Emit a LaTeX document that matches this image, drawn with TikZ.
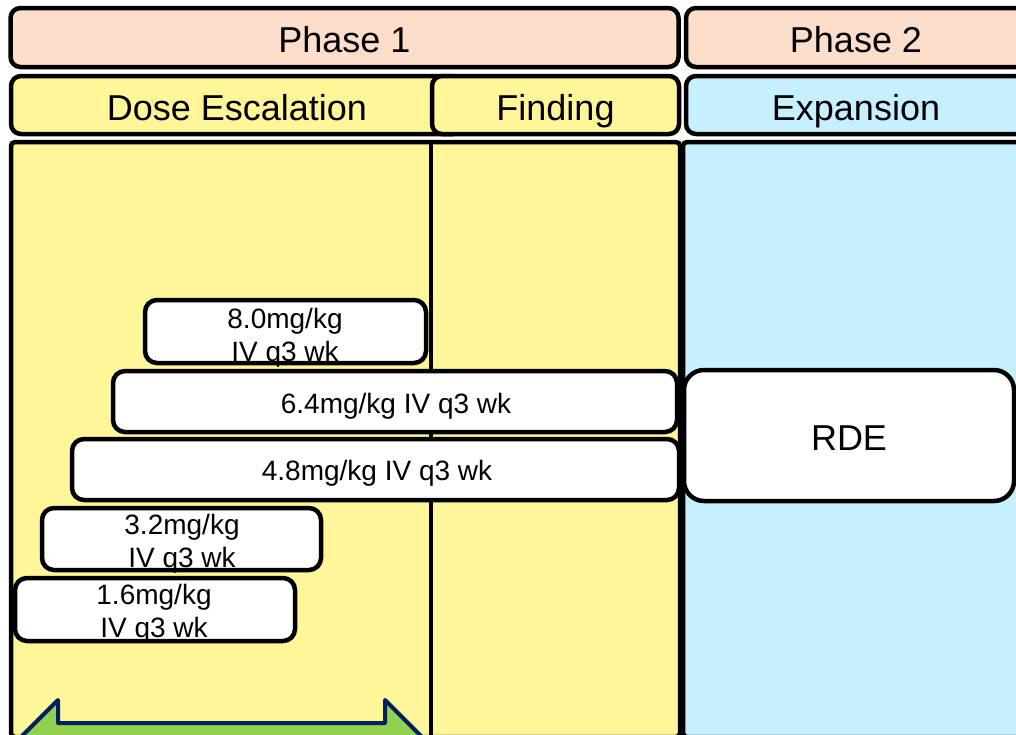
\documentclass[tikz,border=0pt]{standalone}
\usepackage{fontspec}
\setmainfont{Liberation Sans}
\definecolor{peach}{HTML}{FDDECB}
\definecolor{ylw}{HTML}{FFF599}
\definecolor{lblue}{HTML}{C6F0FF}
\definecolor{grn}{HTML}{92D050}
\definecolor{navy}{HTML}{002060}
\begin{document}
\begin{tikzpicture}[x=1pt,y=-1pt,
  box/.style={rectangle, inner sep=0pt, outer sep=0pt, line width=4.5pt, draw=black, rounded corners=10pt},
  hdr/.style={box, font=\fontsize{36}{40}\selectfont, text height=36pt, text depth=6pt},
  body/.style={box, rounded corners=4pt},
  dosefill/.style={rectangle, inner sep=0pt, outer sep=0pt, fill=white, rounded corners=12pt},
  doseline/.style={draw=black, line width=4.5pt, rounded corners=12pt},
  dosetext/.style={inner sep=0pt, align=center, font=\fontsize{28}{33}\selectfont},
  divider/.style={draw=black, line width=4pt},
  blockarrow/.style={draw=navy, fill=grn, line width=4pt, line join=round}]
\useasboundingbox (0,0) rectangle (1016,734);
\clip (0,0) rectangle (1016,734);
% body areas
\node[body, fill=ylw, minimum width=669pt, minimum height=595pt] (ybody) at (345.5,439.5) {};
\node[body, fill=lblue, minimum width=347pt, minimum height=595pt] (bbody) at (856.5,439.5) {};
\coordinate (dtop) at (431,142);
\coordinate (dbot) at (431,740);
\draw[divider] (dtop) -- (dbot);
% headers
\node[hdr, fill=peach, minimum width=668pt, minimum height=59pt] (ph1) at (344.5,37.5) {Phase 1};
\node[hdr, fill=peach, minimum width=340pt, minimum height=59pt] (ph2) at (856,37.5) {Phase 2};
\node[hdr, fill=ylw, minimum width=452pt, minimum height=58pt] (dose) at (237,105) {Dose Escalation};
\node[hdr, fill=ylw, minimum width=247pt, minimum height=58pt] (find) at (555.5,105) {Finding};
\node[hdr, fill=lblue, minimum width=340pt, minimum height=58pt] (exp) at (856,105) {Expansion};
% green double arrow
\draw[blockarrow] (58,700) -- (58,723) -- (385,723) -- (385,700) -- (435,750) -- (385,800) -- (385,777) -- (58,777) -- (58,800) -- (8,750) -- cycle;
% dose boxes
\node[dosefill, minimum width=281pt, minimum height=63pt] (b80) at (285.5,331.5) {};
\node[dosefill, minimum width=564pt, minimum height=61pt] (b64) at (395,401.5) {};
\node[dosefill, minimum width=607pt, minimum height=61pt] (b48) at (375.5,469.5) {};
\node[dosefill, minimum width=279pt, minimum height=62pt] (b32) at (181.5,539) {};
\node[dosefill, minimum width=280pt, minimum height=63pt] (b16) at (155,609.5) {};
\node[dosetext] (t80) at (285,338) {8.0mg/kg\\IV q3 wk};
\node[dosetext] (t64) at (396,406) {6.4mg/kg IV q3 wk};
\node[dosetext] (t48) at (377,473) {4.8mg/kg IV q3 wk};
\node[dosetext] (t32) at (182,544) {3.2mg/kg\\IV q3 wk};
\node[dosetext] (t16) at (154,614) {1.6mg/kg\\IV q3 wk};
\foreach \n in {b80,b64,b48,b32,b16}{
  \draw[doseline] (\n.north west) rectangle (\n.south east);
}
% RDE
\node[hdr, fill=white, rounded corners=20pt, minimum width=330pt, minimum height=131pt] (rde) at (849,435.5) {RDE};
\end{tikzpicture}
\end{document}
